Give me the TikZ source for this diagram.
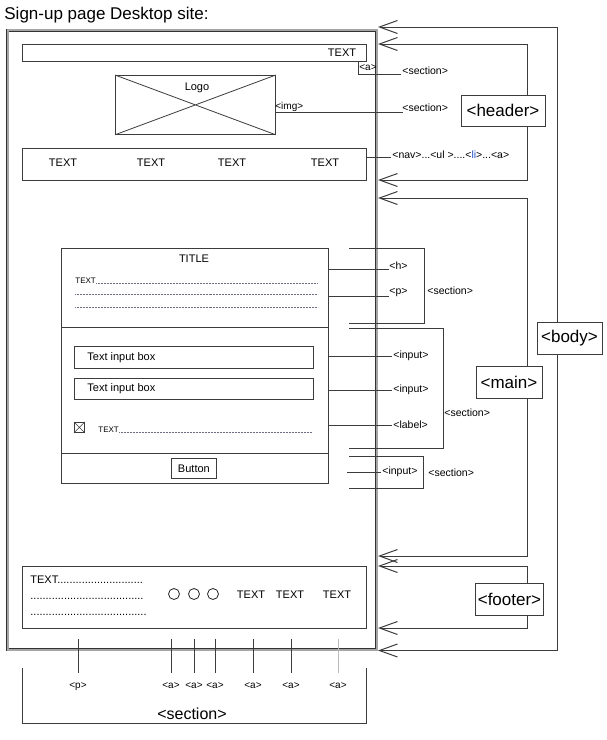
\documentclass[tikz,border=0pt]{standalone}
\usepackage{fontspec}
\setmainfont{Liberation Sans}
\usetikzlibrary{arrows.meta}
\definecolor{line_gray}{RGB}{60,60,60}
\definecolor{frame_gray}{RGB}{165,165,165}
\definecolor{dot_gray}{RGB}{110,110,130}
\definecolor{tag_blue}{RGB}{40,80,200}
\definecolor{pale_gray}{RGB}{185,185,185}

\begin{document}
\begin{tikzpicture}[x=1pt,y=-1pt,line width=0.8pt,>={Straight Barb[length=18pt,width=13pt]}]
    \tikzstyle{box}=[draw=line_gray, rectangle, anchor=north west, inner sep=0pt, fill=white]
    \tikzstyle{tagbox}=[draw=line_gray, rectangle, fill=white, inner sep=2pt, font=\fontsize{17}{20}\selectfont]
    \tikzstyle{txt}=[inner sep=1pt, font=\fontsize{11}{13}\selectfont]
    \tikzstyle{tag}=[inner sep=1pt, anchor=west, font=\fontsize{10.5}{12}\selectfont]
    \tikzstyle{smalltxt}=[inner sep=0pt, anchor=base west, font=\fontsize{8}{9}\selectfont]
    \tikzstyle{dotline}=[draw=dot_gray, line width=0.5pt, dash pattern=on 0.6pt off 0.9pt]
    \tikzstyle{tie}=[draw=line_gray, line width=0.8pt]
    \tikzstyle{bracket}=[draw=line_gray, line width=1pt]
    \tikzstyle{route}=[draw=line_gray, line width=1pt, <->]

    \useasboundingbox (0,0) rectangle (607,740);
    \node[anchor=base west, inner sep=0pt, font=\fontsize{17}{20}\selectfont] (title) at (4,19) {Sign-up page Desktop site:};

    % page frame
    \node[box, fill=none, draw=black!80, double=frame_gray, double distance=2pt, line width=0.6pt,
          minimum width=369pt, minimum height=619.5pt] (page) at (7.5,30) {};

    % header
    \node[box, minimum width=344pt, minimum height=17pt] (topbar) at (22,44) {};
    \node[txt] (topbar_txt) at (342,53) {TEXT};
    \node[box, minimum width=160pt, minimum height=59pt] (logo) at (115,75) {};
    \draw[line_gray] (logo.north west) -- (logo.south east) (logo.south west) -- (logo.north east);
    \node[txt] (logo_txt) at (197,88) {Logo};
    \node[box, minimum width=344pt, minimum height=32pt] (nav) at (22,148) {};
    \foreach \x/\n in {63/1,151/2,232/3,325/4}
      \node[txt] (nav_\n) at (\x,163) {TEXT};

    \coordinate (a_corner) at (358,74);
    \node[tag, font=\fontsize{10}{12}\selectfont] (a_tag) at (358,67.5) {<a>};
    \node[tag] (sec_a) at (401,71) {<section>};
    \draw[tie] (topbar.south -| a_corner) -- (a_corner) -- (sec_a.west |- a_corner);
    \node[tag, font=\fontsize{10}{12}\selectfont] (img_tag) at (274,107) {<img>};
    \node[tag] (sec_img) at (401,108) {<section>};
    \draw[tie] (logo.east) ++(0,7.5) -- ++(127,0);
    \node[tag] (nav_tag) at (391,155) {<nav>...<ul >....<\textcolor{tag_blue}{li}>...<a>};
    \draw[tie] (nav.east |- 0,157) -- (nav_tag.west |- 0,157);

    % form
    \node[box, minimum width=267pt, minimum height=235pt] (form) at (61,248) {};
    \draw[line_gray] ([yshift=-79.5pt]form.north west) -- ([yshift=-79.5pt]form.north east);
    \draw[line_gray] ([yshift=-205pt]form.north west) -- ([yshift=-205pt]form.north east);
    \node[txt] (form_title) at (194,259) {TITLE};
    \node[smalltxt] (form_txt) at (75,283) {TEXT};
    \draw[dotline] (form_txt.base east) -- ++(221,0);
    \draw[dotline] (form_txt.base west) ++(0,11.5) -- ++(243,0);
    \draw[dotline] (form_txt.base west) ++(0,24) -- ++(243,0);

    \node[box, minimum width=239pt, minimum height=22pt] (input_1) at (74,346) {};
    \node[txt, anchor=west] (input_1_txt) at ([xshift=12pt]input_1.west) {Text input box};
    \node[box, minimum width=239pt, minimum height=21pt] (input_2) at (74,378) {};
    \node[txt, anchor=west] (input_2_txt) at ([xshift=12pt]input_2.west) {Text input box};
    \node[box, minimum size=10pt] (check) at (74,422) {};
    \draw[line_gray, line width=0.6pt] (check.north west) -- (check.south east) (check.south west) -- (check.north east);
    \node[smalltxt] (check_txt) at (98,432) {TEXT};
    \draw[dotline] (check_txt.base east) -- (312,432);
    \node[box, minimum width=45pt, minimum height=20pt, font=\fontsize{11}{13}\selectfont] (button) at (171,458) {Button};

    % form tags
    \node[tag, anchor=south west] (h_tag) at (388,271) {<h>};
    \node[tag, anchor=south west] (p_tag) at (388,298) {<p>};
    \draw[tie] (form.east |- h_tag.south west) ++(0,-2) -- ++(60,0);
    \draw[tie] (form.east |- p_tag.south west) ++(0,-2) -- ++(60,0);
    \coordinate (s1_top) at (349,248);
    \coordinate (s1_bot) at (349,323);
    \draw[bracket] (s1_top) -- ++(75,0) |- (s1_bot);
    \node[tag] (s1_tag) at (426,291) {<section>};

    \node[tag] (in1_tag) at (392,356) {<input>};
    \node[tag] (in2_tag) at (392,390) {<input>};
    \node[tag] (lbl_tag) at (392,425) {<label>};
    \draw[tie] (form.east |- in1_tag) -- (in1_tag.west);
    \draw[tie] (form.east |- in2_tag) -- (in2_tag.west);
    \draw[tie] (form.east |- lbl_tag) -- (lbl_tag.west);
    \coordinate (s2_top) at (349,328);
    \coordinate (s2_bot) at (349,448);
    \draw[bracket] (s2_top) -- ++(94,0) |- (s2_bot);
    \node[tag] (s2_tag) at (443,413) {<section>};

    \node[tag] (in3_tag) at (381,472) {<input>};
    \coordinate (in3_from) at (347,472);
    \draw[tie] (in3_from) -- (in3_tag.west);
    \coordinate (s3_top) at (349,456);
    \coordinate (s3_bot) at (349,488);
    \draw[bracket] (s3_top) -- ++(74,0) |- (s3_bot);
    \node[tag] (s3_tag) at (427,473) {<section>};

    % footer
    \node[box, minimum width=344pt, minimum height=62pt] (ft_box) at (22,566) {};
    \node[txt, anchor=base west] (ft_txt) at (29,583) {TEXT............................};
    \node[txt, anchor=base west] (ft_dots_1) at (29,599) {.....................................};
    \node[txt, anchor=base west] (ft_dots_2) at (29,615) {......................................};
    \foreach \x/\n in {174/1,194/2,213/3}
      \node[circle, draw=black!85, minimum size=11pt, inner sep=0pt] (ft_dot_\n) at (\x,594) {};
    \foreach \x/\n in {251/1,290/2,337/3}
      \node[txt] (ft_link_\n) at (\x,595) {TEXT};

    \foreach \x/\t/\n/\c in {78/{<p>}/p/line_gray,171/{<a>}/a1/line_gray,194/{<a>}/a2/line_gray,
                             215/{<a>}/a3/line_gray,253/{<a>}/a4/line_gray,291/{<a>}/a5/line_gray,338/{<a>}/a6/pale_gray}
    {
      \node[tag, anchor=base, font=\fontsize{10}{12}\selectfont] (bt_\n) at (\x,688) {\t};
      \draw[\c] (ft_box.south -| bt_\n) ++(0,10) -- ++(0,34);
    }
    \coordinate (bt_l) at (22,668);
    \coordinate (bt_r) at (366,668);
    \draw[bracket] (bt_l) -- ++(0,55) -| (bt_r);
    \node[inner sep=1pt, font=\fontsize{16}{18}\selectfont] (bt_sec) at (192,714) {<section>};

    % routes to the right
    \coordinate (body_in) at (378,27);
    \coordinate (body_out) at (378,650.5);
    \draw[route] (body_in) -- ++(179,0) |- (body_out);
    \coordinate (hd_in) at (378,44);
    \coordinate (hd_out) at (378,180);
    \draw[route] (hd_in) -- ++(149,0) |- (hd_out);
    \coordinate (mn_in) at (378,198);
    \coordinate (mn_out) at (378,556);
    \draw[route] (mn_in) -- ++(149,0) |- (mn_out);
    \coordinate (ft_in) at (378,566);
    \coordinate (ft_out) at (378,628);
    \draw[route] (ft_in) -- ++(149,0) |- (ft_out);

    \node[tagbox, minimum width=84pt, minimum height=31pt] (header) at (503,110.5) {<header>};
    \node[tagbox, minimum width=65pt, minimum height=32pt] (body) at (569.5,338.5) {<body>};
    \node[tagbox, minimum width=66pt, minimum height=32pt] (main) at (509,382) {<main>};
    \node[tagbox, minimum width=67pt, minimum height=32pt] (footer) at (509.5,599) {<footer>};
\end{tikzpicture}
\end{document}
